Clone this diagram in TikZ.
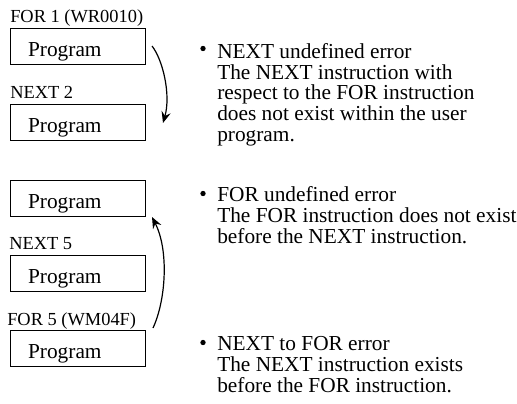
\documentclass[tikz,border=0pt]{standalone}
\usepackage{fontspec}
\setmainfont{Liberation Serif}
\usepackage{tikz}
\usetikzlibrary{arrows.meta}

\begin{document}
\begin{tikzpicture}[
  x=0.75pt, y=-0.75pt,
  progbox/.style={
    rectangle, draw=black, line width=0.9pt,
    font=\fontsize{16}{18}\selectfont,
    text width=74.25pt, inner xsep=13.5pt, inner ysep=0pt,
    text height=21pt, text depth=6pt, align=left,
    anchor=north west},
  steplbl/.style={font=\fontsize{13.8}{16}\selectfont, anchor=base west, inner sep=0pt},
  errtext/.style={font=\fontsize{16}{15.5}\selectfont, align=left, anchor=base west, inner sep=0pt},
  dot/.style={circle, fill=black, inner sep=0pt, minimum size=4pt},
  arr/.style={-{Stealth[length=8.5pt,width=7pt,inset=3pt]}, line width=0.9pt}
]
\useasboundingbox (0,0) rectangle (517,403);

%% ── LEFT COLUMN ──────────────────────────────────────────
\node[steplbl] (forA)  at (10,22.5)  {FOR 1 (WR0010)};
\node[progbox] (prog1) at (9.5,28)   {Program};
\node[steplbl] (nextA) at (10,98.5)  {NEXT 2};
\node[progbox] (prog2) at (9.5,104)  {Program};

\node[progbox] (prog3) at (9.5,180)  {Program};
\node[steplbl] (nextB) at (9,249.5)  {NEXT 5};
\node[progbox] (prog4) at (9.5,255)  {Program};
\node[steplbl] (forB)  at (7,325)    {FOR 5 (WM04F)};
\node[progbox] (prog5) at (9.5,330)  {Program};

%% Curved arrows
\coordinate (jumpA) at (152,46);
\coordinate (landA) at (163,123);
\draw[arr] (jumpA) .. controls (163,60) and (171,95) .. (landA);

\coordinate (jumpB) at (153,328);
\coordinate (landB) at (152,217);
\draw[arr] (jumpB) .. controls (166,300) and (169,250) .. (landB);

%% ── RIGHT COLUMN ─────────────────────────────────────────
%% (base anchor sits on the last line)
\node[dot] (dotA) at (203,48.5) {};
\node[errtext] (errA) at (217,141)
  {NEXT undefined error\\The NEXT instruction with\\respect to the FOR instruction\\does not exist within the user\\program.};

\node[dot] (dotB) at (203,193.5) {};
\node[errtext] (errB) at (217,243)
  {FOR undefined error\\The FOR instruction does not exist\\before the NEXT instruction.};

\node[dot] (dotC) at (203,342.5) {};
\node[errtext] (errC) at (217,392)
  {NEXT to FOR error\\The NEXT instruction exists\\before the FOR instruction.};

\end{tikzpicture}
\end{document}
